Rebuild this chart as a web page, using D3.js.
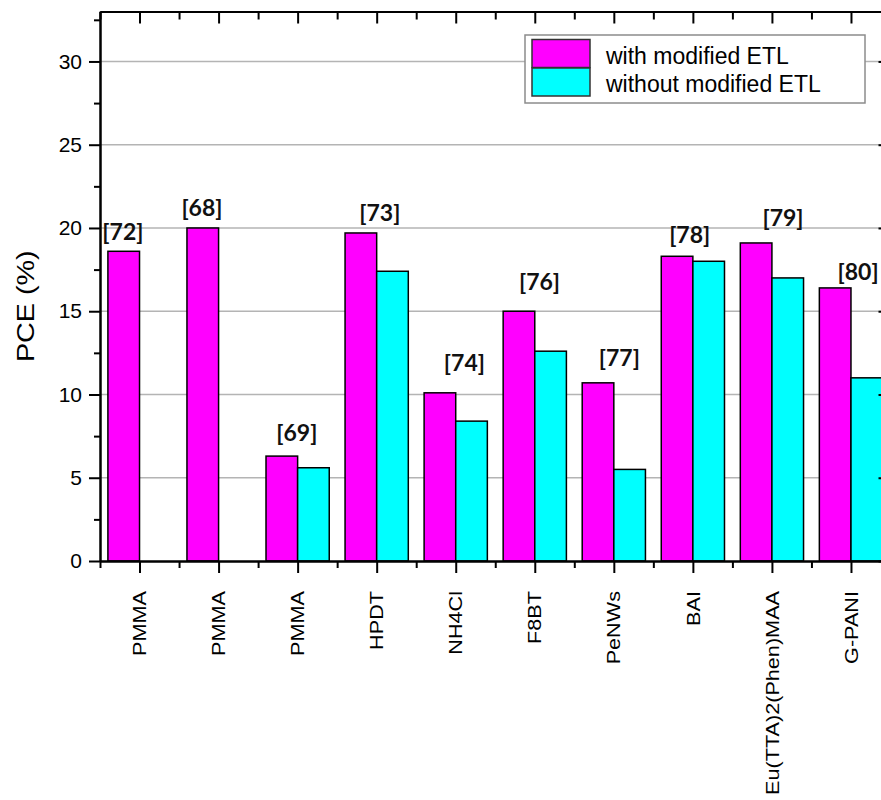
<!DOCTYPE html>
<html>
<head>
<meta charset="utf-8">
<script src="https://cdn.jsdelivr.net/npm/d3@7"></script>
<style>
    body { margin: 0; background: #fff; }
    #chart-area { width: 881px; height: 800px; }
    .axis path, .axis line { stroke: #000; stroke-width: 2; }
    .axis text { font-family: "Liberation Sans", Arial, sans-serif; font-size: 21px; fill: #000; }
</style>
</head>
<body>
<div id="chart-area"></div>
<script>
// chart values
const categories = ["PMMA", "PMMA", "PMMA", "HPDT", "NH4Cl", "F8BT", "PeNWs", "BAI", "Eu(TTA)2(Phen)MAA", "G-PANI"];
const withEtl = [18.6, 20.0, 6.3, 19.7, 10.1, 15.0, 10.7, 18.3, 19.1, 16.4];
const withoutEtl = [0, 0, 5.6, 17.4, 8.4, 12.6, 5.5, 18.0, 17.0, 11.0];
const seriesNames = ["with modified ETL", "without modified ETL"];
const refLabels = ["[72]", "[68]", "[69]", "[73]", "[74]", "[76]", "[77]", "[78]", "[79]", "[80]"];
// where each reference tag sits: PCE value of its baseline, and shift from the group centre (in groups)
const refLabelPce = [19.3, 20.7, 7.2, 20.4, 11.4, 16.3, 11.7, 19.1, 20.1, 16.9];
const refLabelShift = [-0.21, -0.21, -0.01, 0.04, 0.11, 0.06, 0.07, -0.04, 0.14, 0.09];
const yTicks = [0, 5, 10, 15, 20, 25, 30];
const yMinorTicks = [2.5, 7.5, 12.5, 17.5, 22.5, 27.5, 32.5];
const yMax = 33;

class PceBarChart {
    constructor(parentElement) {
        this.parentElement = parentElement
        this.data = categories.map((c, i) => ({index: i, name: c, with: withEtl[i], without: withoutEtl[i]}))
        this.keys = ["with", "without"]
        this.initVis()
    }

    initVis() {
        let vis = this

        vis.margin = {top: 11.5, right: -9.5, bottom: 239, left: 100};
        vis.width = 881 - vis.margin.left - vis.margin.right;
        vis.height = 800 - vis.margin.top - vis.margin.bottom;

        vis.svg = d3.select("#" + vis.parentElement).append("svg")
            .attr("width", 881)
            .attr("height", 800)
            .append("g")
            .attr("transform", `translate(${vis.margin.left}, ${vis.margin.top})`);

        // scales
        vis.x0 = d3.scaleBand()
            .domain(vis.data.map(d => d.index))
            .range([0, vis.width])
            .padding(0);
        vis.x1 = d3.scaleBand()
            .domain(vis.keys)
            .range([0, vis.x0.bandwidth()])
            .paddingInner(0)
            .paddingOuter(0.25);
        vis.xLin = d3.scaleLinear()
            .domain([0, categories.length])
            .range([0, vis.width]);
        vis.y = d3.scaleLinear()
            .domain([0, yMax])
            .range([vis.height, 0]);
        vis.colorScale = d3.scaleOrdinal()
            .domain(vis.keys)
            .range(["#ff00ff", "#00ffff"]);

        // grid
        vis.svg.append("g")
            .attr("class", "grid")
            .selectAll("line")
            .data(yTicks.filter(t => t > 0))
            .enter().append("line")
            .attr("x1", 0)
            .attr("x2", vis.width)
            .attr("y1", d => vis.y(d))
            .attr("y2", d => vis.y(d))
            .attr("stroke", "#b4b4b4")
            .attr("stroke-width", 1.5);

        vis.updateVis();
    }

    updateVis() {
        let vis = this;
        let majorX = d3.range(categories.length).map(i => i + 0.5);
        let minorX = d3.range(categories.length + 1);

        // bars
        let groups = vis.svg.append("g")
            .selectAll("g")
            .data(vis.data)
            .enter().append("g")
            .attr("transform", d => `translate(${vis.x0(d.index)}, 0)`);

        groups.selectAll("rect")
            .data(d => vis.keys.map(k => ({key: k, value: d[k]})).filter(e => e.value > 0))
            .enter().append("rect")
            .attr("x", d => vis.x1(d.key))
            .attr("y", d => vis.y(d.value))
            .attr("width", vis.x1.bandwidth())
            .attr("height", d => vis.y(0) - vis.y(d.value))
            .attr("fill", d => vis.colorScale(d.key))
            .attr("stroke", "#000")
            .attr("stroke-width", 1.5);

        // reference tags
        vis.svg.append("g")
            .selectAll("text")
            .data(vis.data)
            .enter().append("text")
            .attr("x", d => vis.xLin(d.index + 0.5 + refLabelShift[d.index]))
            .attr("y", d => vis.y(refLabelPce[d.index]))
            .attr("text-anchor", "middle")
            .attr("font-family", "Lato, 'Open Sans', sans-serif")
            .attr("font-weight", "bold")
            .attr("font-size", "23px")
            .attr("fill", "#111")
            .text(d => refLabels[d.index]);

        // axes
        let yAxis = d3.axisLeft(vis.y).tickValues(yTicks).tickSize(11).tickSizeOuter(0).tickPadding(7);
        let yMinor = d3.axisLeft(vis.y).tickValues(yMinorTicks).tickSize(6).tickSizeOuter(0).tickFormat("");
        vis.svg.append("g").attr("class", "axis").call(yAxis);
        vis.svg.append("g").attr("class", "axis").call(yMinor);

        // right mirror axis, ticks pointing in
        let rAxis = d3.axisLeft(vis.y).tickValues(yTicks).tickSize(12).tickSizeOuter(0).tickFormat("");
        let rMinor = d3.axisLeft(vis.y).tickValues(yMinorTicks).tickSize(7).tickSizeOuter(0).tickFormat("");
        vis.svg.append("g").attr("class", "axis").attr("transform", `translate(${vis.width}, 0)`).call(rAxis);
        vis.svg.append("g").attr("class", "axis").attr("transform", `translate(${vis.width}, 0)`).call(rMinor);

        let xAxis = d3.axisBottom(vis.xLin).tickValues(majorX).tickSize(12).tickSizeOuter(0).tickFormat("");
        let xMinor = d3.axisBottom(vis.xLin).tickValues(minorX).tickSize(7).tickSizeOuter(0).tickFormat("");
        vis.svg.append("g").attr("class", "axis").attr("transform", `translate(0, ${vis.height})`).call(xAxis);
        vis.svg.append("g").attr("class", "axis").attr("transform", `translate(0, ${vis.height})`).call(xMinor);

        // top mirror axis, ticks pointing in
        let tAxis = d3.axisBottom(vis.xLin).tickValues(majorX).tickSize(12).tickSizeOuter(0).tickFormat("");
        let tMinor = d3.axisBottom(vis.xLin).tickValues(minorX).tickSize(8).tickSizeOuter(0).tickFormat("");
        vis.svg.append("g").attr("class", "axis").call(tAxis);
        vis.svg.append("g").attr("class", "axis").call(tMinor);

        // category labels, rotated and drawn a bit tall like the original
        vis.svg.append("g")
            .selectAll("text")
            .data(vis.data)
            .enter().append("text")
            .attr("transform", d => `translate(${vis.xLin(d.index + 0.5)}, ${vis.height + 30}) rotate(-90) scale(1.17, 1)`)
            .attr("dy", "0.36em")
            .attr("text-anchor", "end")
            .attr("font-family", "'Liberation Sans', Arial, sans-serif")
            .attr("font-size", "18.5px")
            .attr("fill", "#000")
            .text(d => d.name);

        // y title
        vis.svg.append("text")
            .attr("transform", `translate(${34 - vis.margin.left}, ${vis.y(15.3)}) rotate(-90) scale(1.25, 1)`)
            .attr("text-anchor", "middle")
            .attr("font-family", "'Liberation Sans', Arial, sans-serif")
            .attr("font-size", "23px")
            .attr("fill", "#000")
            .text("PCE (%)");

        // legend
        let legend = vis.svg.append("g")
            .attr("transform", `translate(${525 - vis.margin.left}, ${35 - vis.margin.top})`);
        legend.append("rect")
            .attr("width", 340)
            .attr("height", 68)
            .attr("fill", "#fff")
            .attr("stroke", "#8c8c8c")
            .attr("stroke-width", 1.5);
        let items = legend.selectAll(".legend-item")
            .data(vis.keys)
            .enter().append("g")
            .attr("class", "legend-item")
            .attr("transform", (d, i) => `translate(7, ${4.5 + i * 28.5})`);
        items.append("rect")
            .attr("width", 58)
            .attr("height", 28)
            .attr("fill", vis.colorScale)
            .attr("stroke", "#333")
            .attr("stroke-width", 1.5);
        items.append("text")
            .attr("x", 74)
            .attr("y", 24)
            .attr("font-family", "'Liberation Sans', Arial, sans-serif")
            .attr("font-size", "23px")
            .attr("fill", "#000")
            .text((d, i) => seriesNames[i]);
    }
}

new PceBarChart("chart-area");
</script>
</body>
</html>
